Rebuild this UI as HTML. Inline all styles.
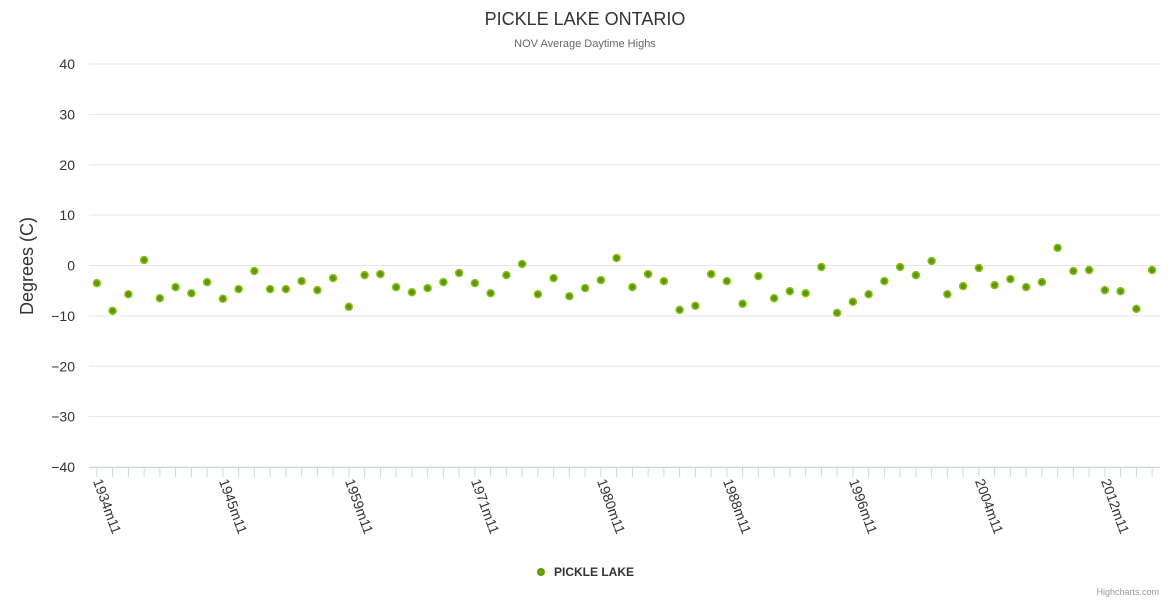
<!DOCTYPE html>
<html><head><meta charset="utf-8"><style>
body{margin:0;background:#fff;font-family:"Liberation Sans",Arial,sans-serif}
svg text{font-family:"Liberation Sans",Arial,sans-serif}
</style></head><body>
<svg id="c" width="1170" height="600">
<text x="585" y="25" text-anchor="middle" font-size="18" fill="#333">PICKLE LAKE ONTARIO</text>
<text x="585" y="47" text-anchor="middle" font-size="11" fill="#666">NOV Average Daytime Highs</text>
<text transform="translate(33,266) rotate(-90)" text-anchor="middle" font-size="18" fill="#333">Degrees (C)</text>
<g id="grid"></g><g id="xax"></g><g id="pts"></g>
<g>
<circle cx="541" cy="572" r="3.5" fill="#66a000" stroke="#5a9a00"/>
<text x="554" y="576" font-size="12" font-weight="bold" fill="#333">PICKLE LAKE</text>
</g>
<text x="1159" y="595" text-anchor="end" font-size="9" fill="#999">Highcharts.com</text>
</svg>
<script>
const values=[-3.5,-9,-5.7,1.1,-6.5,-4.3,-5.5,-3.3,-6.6,-4.7,-1.1,-4.7,-4.7,-3.1,-4.9,-2.5,-8.2,-1.9,-1.7,-4.3,-5.3,-4.5,-3.3,-1.5,-3.5,-5.5,-1.9,0.3,-5.7,-2.5,-6.1,-4.5,-2.9,1.5,-4.3,-1.7,-3.1,-8.8,-8.0,-1.7,-3.1,-7.6,-2.1,-6.5,-5.1,-5.5,-0.3,-9.4,-7.2,-5.7,-3.1,-0.3,-1.9,0.9,-5.7,-4.1,-0.5,-3.9,-2.7,-4.3,-3.3,3.5,-1.1,-0.9,-4.9,-5.1,-8.6,-0.9];
const years=[1934,1936,1937,1938,1939,1941,1942,1943,1945,1946,1947,1949,1950,1952,1954,1957,1959,1960,1962,1963,1964,1966,1968,1969,1971,1972,1973,1974,1975,1976,1977,1978,1980,1981,1982,1983,1984,1985,1986,1987,1988,1989,1990,1991,1992,1993,1994,1995,1996,1997,1998,1999,2000,2001,2002,2003,2004,2005,2006,2007,2008,2009,2010,2011,2012,2013,2014,2015];
const categories=years.map(y=>y+"m11");
const yTicks=[40,30,20,10,0,-10,-20,-30,-40];
const NS="http://www.w3.org/2000/svg";
const L=89,R=1160,T=64,B=467;
const step=(R-L)/categories.length;
const xs=i=>L+step*(i+0.5);
const ys=v=>T+(40-v)/80*(B-T);
function mk(t,a,p){const e=document.createElementNS(NS,t);for(const k in a)e.setAttribute(k,a[k]);p.appendChild(e);return e;}
const g=document.getElementById('grid');
yTicks.forEach(v=>{
 const l=mk('line',{x1:L,x2:R,y1:ys(v),y2:ys(v),stroke:'#e6e6e6'},g);
 
 
 const t=mk('text',{x:75,y:ys(v)+5,'text-anchor':'end','font-size':14,fill:'#333'},g);
 t.textContent=v<0?'\u2212'+(-v):v;
 
 
});
const xa=document.getElementById('xax');
const ax=mk('line',{x1:L,x2:R,y1:B+0.5,y2:B+0.5,stroke:'#ccd6eb'},xa);


categories.forEach((c,i)=>{
 const tk=mk('line',{x1:xs(i),x2:xs(i),y1:B,y2:B+10,stroke:'#ccd6eb'},xa);
 
 
 if(i%8===0){
  const t=mk('text',{transform:`translate(${xs(i)-4},${B+14}) rotate(70)`,'font-size':14,fill:'#333'},xa);
  t.textContent=c;
  
  
 }
});
const p=document.getElementById('pts');
values.forEach((v,i)=>{
 const c=mk('circle',{cx:xs(i),cy:ys(v),r:3.5,fill:'#5a9a00',stroke:'#8bc21a','stroke-width':1.5},p);
 
 
});
</script>
</body></html>
